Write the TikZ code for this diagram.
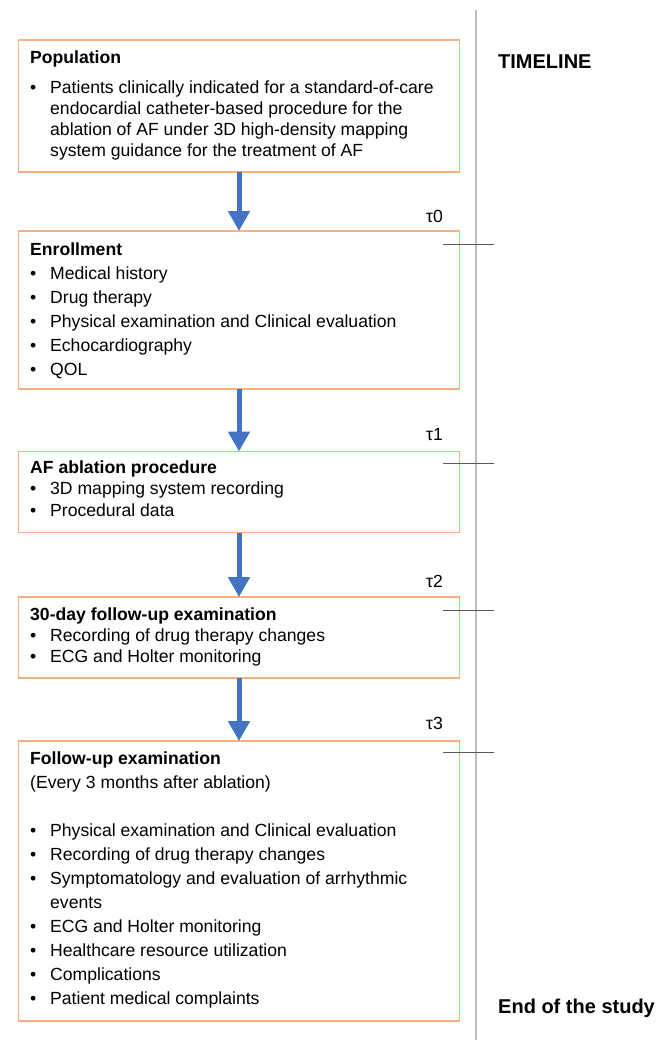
\documentclass[tikz,border=0pt]{standalone}
\usepackage{fontspec}
\setmainfont{Liberation Sans}
\usepackage{array}
\usepackage{tikz}
\usetikzlibrary{
	arrows.meta,
	positioning,
	}

\definecolor{boxorange}{HTML}{F4B183}
\definecolor{flowblue}{HTML}{4472C4}
\definecolor{tickgray}{HTML}{595959}
\definecolor{linegray}{HTML}{BFBFBF}

\newcommand{\stagetitle}[1]{\multicolumn{2}{@{}l@{}}{\textbf{#1}}}

\tikzset{
	stage/.style={draw=boxorange, line width=1.3pt, minimum width=441pt, inner sep=0pt, outer sep=0pt},
	stagetext/.style={anchor=base west, inner sep=0pt, xshift=11.5pt, yshift=-23pt,
		font=\fontsize{17.6}{24}\selectfont},
	flow/.style={draw=flowblue, line width=5pt, -{Triangle[width=21pt,length=20pt]}},
	timeline/.style={draw=linegray, line width=2pt},
	tick/.style={draw=tickgray, line width=1pt},
	tau/.style={anchor=base west, inner sep=0pt, font=\fontsize{17.6}{20}\selectfont},
	head/.style={anchor=base west, inner sep=0pt, font=\fontsize{20}{24}\selectfont\bfseries},
	}

\begin{document}
\begin{tikzpicture}[x=1pt, y=-1pt]
	\useasboundingbox (0,0) rectangle (671,1042);

	% stages
	\node[stage, anchor=north west, minimum height=132pt] (pop) at (18.5,40) {};
	\node[stage, minimum height=158pt, below=59pt of pop] (enr) {};
	\node[stage, minimum height=81pt, below=62.5pt of enr] (abl) {};
	\node[stage, minimum height=81pt, below=64.5pt of abl] (fu30) {};
	\node[stage, minimum height=280pt, below=63pt of fu30] (fu) {};

	\node[stagetext, font=\fontsize{17.6}{21}\selectfont] (popTxt) at (pop.north west) {%
		\begin{tabular}[t]{@{}p{20pt}@{}l@{}}
			\stagetitle{Population}\\[9pt]
			• & Patients clinically indicated for a standard-of-care\\
			  & endocardial catheter-based procedure for the\\
			  & ablation of AF under 3D high-density mapping\\
			  & system guidance for the treatment of AF
		\end{tabular}};
	\node[stagetext, yshift=-1pt] (enrTxt) at (enr.north west) {%
		\begin{tabular}[t]{@{}p{20pt}@{}l@{}}
			\stagetitle{Enrollment}\\
			• & Medical history\\
			• & Drug therapy\\
			• & Physical examination and Clinical evaluation\\
			• & Echocardiography\\
			• & QOL
		\end{tabular}};
	\node[stagetext, yshift=1.5pt, font=\fontsize{17.6}{21.5}\selectfont] (ablTxt) at (abl.north west) {%
		\begin{tabular}[t]{@{}p{20pt}@{}l@{}}
			\stagetitle{AF ablation procedure}\\
			• & 3D mapping system recording\\
			• & Procedural data
		\end{tabular}};
	\node[stagetext, font=\fontsize{17.6}{21}\selectfont] (fu30Txt) at (fu30.north west) {%
		\begin{tabular}[t]{@{}p{20pt}@{}l@{}}
			\stagetitle{30-day follow-up examination}\\
			• & Recording of drug therapy changes\\
			• & ECG and Holter monitoring
		\end{tabular}};
	\node[stagetext] (fuTxt) at (fu.north west) {%
		\begin{tabular}[t]{@{}p{20pt}@{}l@{}}
			\stagetitle{Follow-up examination}\\
			\multicolumn{2}{@{}l@{}}{(Every 3 months after ablation)}\\
			\\
			• & Physical examination and Clinical evaluation\\
			• & Recording of drug therapy changes\\
			• & Symptomatology and evaluation of arrhythmic\\
			  & events\\
			• & ECG and Holter monitoring\\
			• & Healthcare resource utilization\\
			• & Complications\\
			• & Patient medical complaints
		\end{tabular}};

	\draw[flow] (pop) -- (enr);
	\draw[flow] (enr) -- (abl);
	\draw[flow] (abl) -- (fu30);
	\draw[flow] (fu30) -- (fu);

	% timeline
	\coordinate (tltop) at (476,10);
	\coordinate (tlbot) at (476,1040);
	\draw[timeline] (tltop) -- (tlbot);
	\node[head] (tlhead) at (498,68) {TIMELINE};
	\node[head] (tlend) at (498,1013) {End of the study};

	\draw[tick] (443,244) -- (494,244);
	\draw[tick] (443,463.5) -- (494,463.5);
	\draw[tick] (443,610.5) -- (494,610.5);
	\draw[tick] (443,752.5) -- (494,752.5);
	\node[tau] (t0) at (426,222) {τ0};
	\node[tau] (t1) at (426,440) {τ1};
	\node[tau] (t2) at (426,587) {τ2};
	\node[tau] (t3) at (426,729) {τ3};

\end{tikzpicture}
\end{document}
